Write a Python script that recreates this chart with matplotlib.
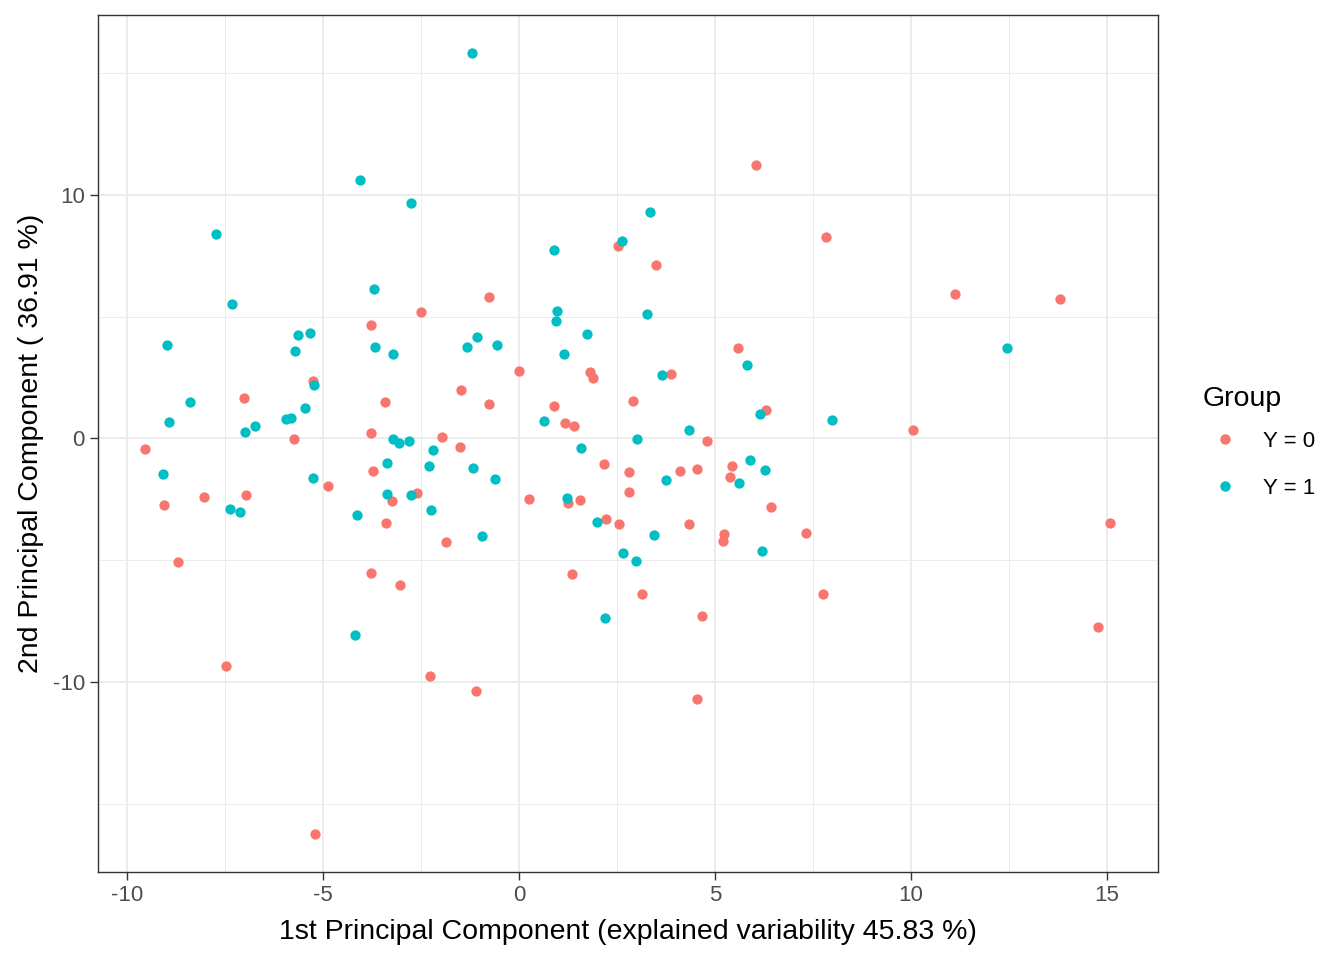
import matplotlib
matplotlib.use("Agg")
import matplotlib.pyplot as plt
from matplotlib.lines import Line2D

plt.rcParams['font.family'] = ['Liberation Sans', 'DejaVu Sans']
plt.rcParams['axes.unicode_minus'] = False

# PCA scores, group Y = 0
pc1_y0 = [-9.55, -9.06, -8.71, -8.04, -7.48, -7.02, -6.97, -5.75, -5.26, -5.21,
          -4.88, -3.78, -3.78, -3.73, -3.78, -3.43, -3.40, -3.25, -3.04, -2.60,
          -2.51, -2.28, -1.97, -1.87, -1.51, -1.49, -1.10, -0.77, -0.76, -0.01,
          0.25, 0.89, 1.17, 1.24, 1.34, 1.40, 1.56, 1.80, 1.88, 2.18,
          2.21, 2.52, 2.55, 2.80, 2.80, 2.90, 3.13, 3.49, 3.87, 4.10,
          4.33, 4.53, 4.55, 4.66, 4.79, 5.20, 5.24, 5.38, 5.43, 5.58,
          6.04, 6.29, 6.44, 7.33, 7.76, 7.82, 10.04, 11.11, 13.79, 14.76,
          15.07]
pc2_y0 = [-0.43, -2.71, -5.05, -2.39, -9.31, 1.67, -2.30, -0.01, 2.37, -16.20,
          -1.93, 4.66, 0.24, -1.33, -5.50, 1.51, -3.45, -2.56, -5.99, -2.22,
          5.18, -9.72, 0.07, -4.23, -0.33, 2.00, -10.34, 5.81, 1.43, 2.78,
          -2.47, 1.34, 0.65, -2.64, -5.57, 0.52, -2.51, 2.71, 2.48, -1.03,
          -3.29, 7.89, -3.49, -1.36, -2.18, 1.55, -6.36, 7.11, 2.66, -1.32,
          -3.49, -1.24, -10.66, -7.26, -0.09, -4.19, -3.93, -1.57, -1.11, 3.72,
          11.22, 1.18, -2.80, -3.86, -6.36, 8.26, 0.35, 5.92, 5.72, -7.71,
          -3.45]

# PCA scores, group Y = 1
pc1_y1 = [-9.09, -8.99, -8.94, -8.40, -7.74, -7.38, -7.33, -7.12, -7.00, -6.74,
          -5.95, -5.82, -5.71, -5.65, -5.47, -5.34, -5.26, -5.23, -4.19, -4.14,
          -4.06, -3.71, -3.68, -3.38, -3.38, -3.22, -3.22, -3.06, -2.81, -2.76,
          -2.76, -2.30, -2.25, -2.20, -1.33, -1.21, -1.18, -1.08, -0.94, -0.62,
          -0.57, 0.64, 0.89, 0.94, 0.96, 1.14, 1.22, 1.57, 1.73, 1.98,
          2.19, 2.62, 2.64, 2.98, 3.00, 3.27, 3.33, 3.44, 3.64, 3.75,
          4.33, 5.61, 5.81, 5.89, 6.14, 6.21, 6.27, 7.98, 12.44]
pc2_y1 = [-1.44, 3.84, 0.68, 1.51, 8.38, -2.88, 5.52, -3.00, 0.28, 0.52,
          0.81, 0.85, 3.60, 4.25, 1.26, 4.34, -1.61, 2.20, -8.04, -3.12,
          10.59, 6.14, 3.75, -0.99, -2.29, 3.48, -0.01, -0.17, -0.09, 9.66,
          -2.30, -1.11, -2.92, -0.47, 3.76, 15.81, -1.20, 4.17, -3.98, -1.66,
          3.84, 0.73, 7.74, 4.82, 5.24, 3.48, -2.43, -0.37, 4.30, -3.41,
          -7.34, 8.11, -4.68, -5.01, -0.01, 5.11, 9.30, -3.94, 2.61, -1.69,
          0.36, -1.81, 3.02, -0.87, 1.02, -4.60, -1.28, 0.77, 3.72]

group_labels = ['Y = 0', 'Y = 1']
group_colors = ['#F8766D', '#00BFC4']

fig = plt.figure(figsize=(13.44, 9.6), dpi=100)
ax = fig.add_axes([98 / 1344, 1 - 872 / 960, 1060 / 1344, 857 / 960])

ax.scatter(pc1_y0, pc2_y0, s=55, color=group_colors[0], linewidths=0, zorder=3)
ax.scatter(pc1_y1, pc2_y1, s=55, color=group_colors[1], linewidths=0, zorder=3)

ax.set_xlim(-10.74, 16.30)
ax.set_ylim(-17.77, 17.36)
ax.set_xticks([-10, -5, 0, 5, 10, 15])
ax.set_yticks([-10, 0, 10])
ax.set_xticks([-7.5, -2.5, 2.5, 7.5, 12.5], minor=True)
ax.set_yticks([-15, -5, 5, 15], minor=True)
ax.grid(which='major', color='#EBEBEB', linewidth=1.3, zorder=0)
ax.grid(which='minor', color='#EBEBEB', linewidth=0.65, zorder=0)
ax.set_axisbelow(True)

for sp in ax.spines.values():
    sp.set_color('#333333')
    sp.set_linewidth(1.0)

ax.tick_params(which='major', length=5.5, width=1.0, color='#333333',
               labelsize=16, labelcolor='#4D4D4D', pad=4)
ax.tick_params(which='minor', length=0)

ax.set_xlabel('1st Principal Component (explained variability 45.83 %)',
              fontsize=20.5, color='black', labelpad=9)
ax.set_ylabel('2nd Principal Component ( 36.91 %)', fontsize=20.5, color='black',
              labelpad=6)

handles = [Line2D([], [], marker='o', linestyle='', markersize=7.5,
                  markerfacecolor=c, markeredgewidth=0) for c in group_colors]
leg = fig.legend(handles, group_labels, title='Group', loc='center left',
                 bbox_to_anchor=(1203 / 1344, 1 - 442 / 960), frameon=False,
                 fontsize=16, title_fontsize=20.5, alignment='left',
                 handletextpad=0.7, labelspacing=1.15, borderpad=0,
                 handlelength=2.0, borderaxespad=0)
leg.get_title().set_position((0, 0))
leg._legend_box.sep = 14

fig.savefig('out.png', dpi=100)
